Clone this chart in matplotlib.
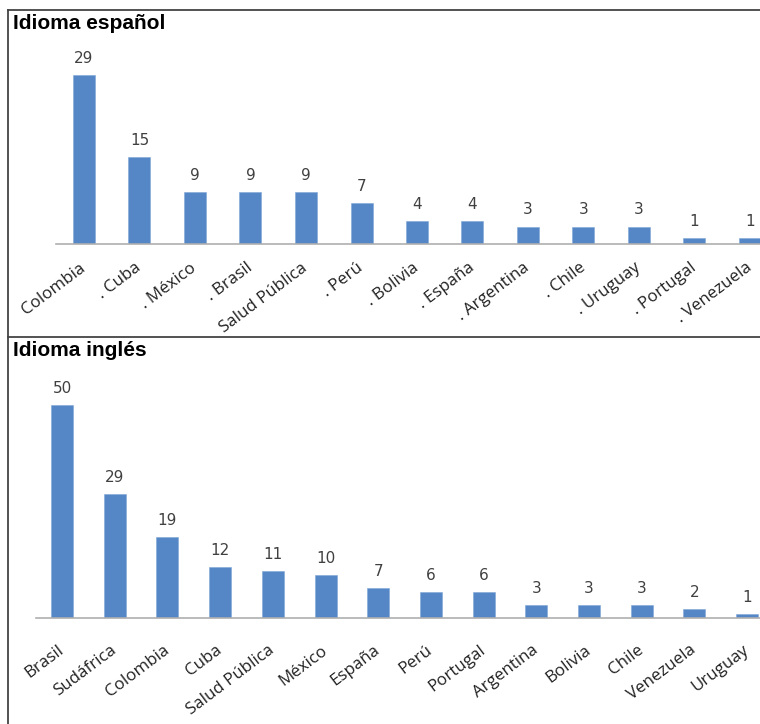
import matplotlib
matplotlib.use("Agg")
import matplotlib.pyplot as plt
from matplotlib.lines import Line2D

# ---- data ----
es_categories = ["Colombia", ". Cuba", ". México", ". Brasil", "Salud Pública", ". Perú",
                 ". Bolivia", ". España", ". Argentina", ". Chile", ". Uruguay",
                 ". Portugal", ". Venezuela"]
es_values = [29, 15, 9, 9, 9, 7, 4, 4, 3, 3, 3, 1, 1]

en_categories = ["Brasil", "Sudáfrica", "Colombia", "Cuba", "Salud Pública", "México",
                 "España", "Perú", "Portugal", "Argentina", "Bolivia", "Chile",
                 "Venezuela", "Uruguay"]
en_values = [50, 29, 19, 12, 11, 10, 7, 6, 6, 3, 3, 3, 2, 1]

titles = ["Idioma español", "Idioma inglés"]

W, H = 760, 724
BAR = "#5587C6"
fig = plt.figure(figsize=(W / 100, H / 100), dpi=100)
fig.patch.set_facecolor("white")


def px_rect(left, top, right, bottom):
    return [left / W, 1 - bottom / H, (right - left) / W, (bottom - top) / H]


def panel(rect, cats, vals, xlim, ylim, width, pad, title, title_xy):
    ax = fig.add_axes(rect)
    x = list(range(len(cats)))
    bars = ax.bar(x, vals, width=width, color=BAR, edgecolor="#7FA6D6", linewidth=0.4,
                  clip_on=True)
    for b, v in zip(bars, vals):
        ax.annotate(str(v), (b.get_x() + b.get_width() / 2, v), xytext=(0, 6.5),
                    textcoords="offset points", ha="center", va="bottom",
                    fontsize=11, color="#404040", family="DejaVu Sans",
                    annotation_clip=False)
    ax.set_xlim(*xlim)
    ax.set_ylim(*ylim)
    ax.set_xticks(x)
    ax.set_xticklabels(cats, rotation=37, ha="right", va="center",
                       rotation_mode="anchor", fontsize=12.2, color="#222222",
                       family="Open Sans")
    ax.tick_params(axis="x", length=0, pad=pad)
    ax.set_yticks([])
    for s in ["top", "right", "left"]:
        ax.spines[s].set_visible(False)
    ax.spines["bottom"].set_color("#AFAFAF")
    ax.spines["bottom"].set_linewidth(1.2)
    ax.set_facecolor("none")
    fig.text(title_xy[0] / W, 1 - title_xy[1] / H, title, fontsize=15,
             fontweight="bold", family="Liberation Sans", ha="left", va="top",
             color="black")
    return ax


# top panel: bar centers at 84 + 55.5*i, baseline at y=244, 29 -> y=75
sp1 = 55.5
ppu1 = (244 - 75) / 29
left1, top1 = 56, 40
panel(px_rect(left1, top1, W, 244), es_categories, es_values,
      (-(84 - left1) / sp1, (W - 84) / sp1), (0, (244 - top1) / ppu1),
      22 / sp1, 16, titles[0], (13, 14))

# bottom panel: centers at 62 + 52.7*i, baseline y=618, 50 -> y=405
sp2 = 52.7
ppu2 = (618 - 405) / 50
left2, top2 = 36, 372
panel(px_rect(left2, top2, W, 618), en_categories, en_values,
      (-(62 - left2) / sp2, (W - 62) / sp2), (0, (618 - top2) / ppu2),
      22 / sp2, 22, titles[1], (13, 341))

# panel borders
bc = "#444444"
for (x0, y0, x1, y1) in [(8, 10, W, 10), (8, 337, W, 337), (8, 10, 8, H)]:
    fig.add_artist(Line2D([x0 / W, x1 / W], [1 - y0 / H, 1 - y1 / H],
                          color=bc, linewidth=1.3, transform=fig.transFigure))

fig.savefig("out.png", dpi=100, facecolor="white")
